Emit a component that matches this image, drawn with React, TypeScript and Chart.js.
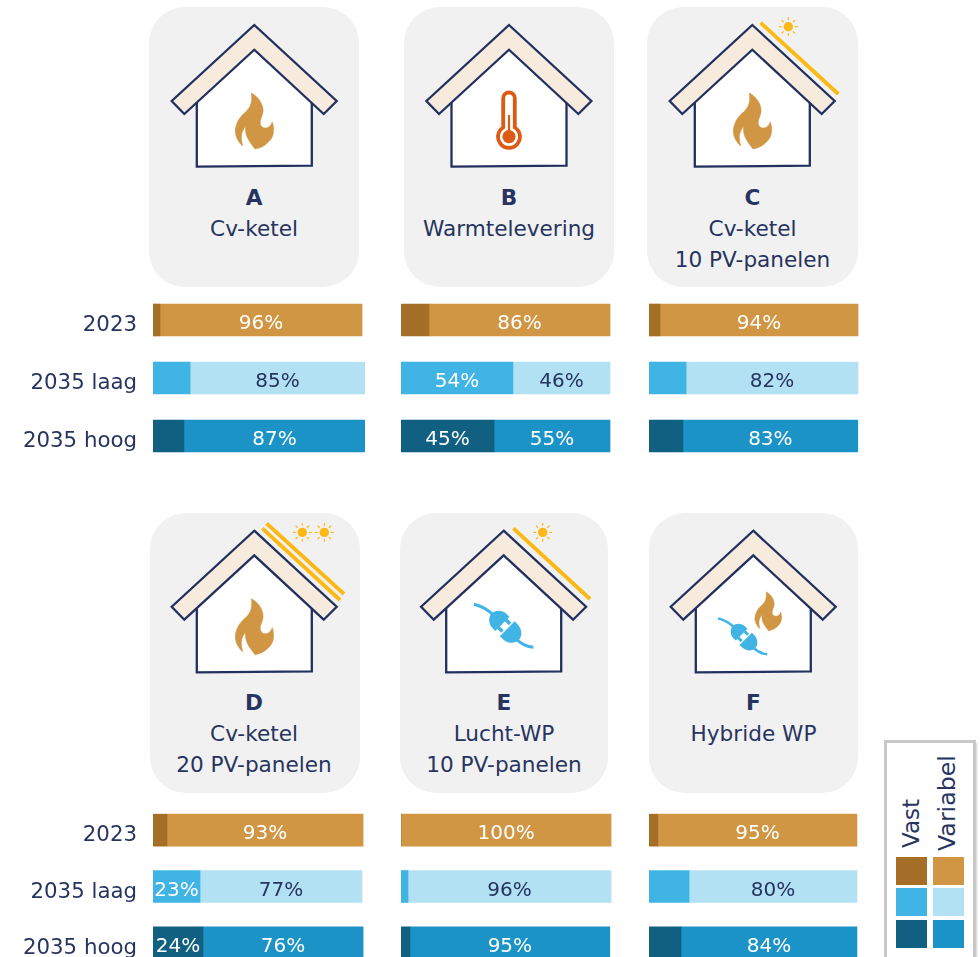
import React, { useEffect, useRef } from "react";
import { Chart, registerables } from "chart.js";

Chart.register(...registerables);

const FONT = '"DejaVu Sans", Verdana, sans-serif';
const NAVY = "#27345f";
const LINE = "#22305f";
const ORANGE = "#d19644";
const SUN = "#fdb913";

const categories = ["2023", "2035 laag", "2035 hoog"];

const vastColours = ["#a66f28", "#41b4e6", "#116082"];
const variabelColours = ["#d19644", "#b2e1f4", "#1b93c6"];
const variabelLabelColours = ["#ffffff", "#27345f", "#ffffff"];

// bar segments, on a 0-100 axis
const aVast = [3.3, 17.5, 14.6];
const aVariabel = [95.3, 82.5, 85.4];
const aVastLabels = ["", "", ""];
const aVariabelLabels = ["96%", "85%", "87%"];

const bVast = [13.2, 52.8, 43.9];
const bVariabel = [85.4, 45.8, 54.7];
const bVastLabels = ["", "54%", "45%"];
const bVariabelLabels = ["86%", "46%", "55%"];

const cVast = [5.2, 17.5, 16];
const cVariabel = [93.4, 81.1, 82.5];
const cVastLabels = ["", "", ""];
const cVariabelLabels = ["94%", "82%", "83%"];

const dVast = [6.6, 22.2, 23.6];
const dVariabel = [92.5, 76.4, 75.5];
const dVastLabels = ["", "23%", "24%"];
const dVariabelLabels = ["93%", "77%", "76%"];

const eVast = [0, 3.3, 4.2];
const eVariabel = [99.1, 95.8, 94.3];
const eVastLabels = ["", "", ""];
const eVariabelLabels = ["100%", "96%", "95%"];

const fVast = [4.2, 18.9, 15.1];
const fVariabel = [93.9, 79.2, 83];
const fVastLabels = ["", "", ""];
const fVariabelLabels = ["95%", "80%", "84%"];

const segmentLabels = {
  id: "segmentLabels",
  afterDatasetsDraw(chart: any) {
    const { ctx } = chart;
    chart.data.datasets.forEach((ds: any, i: number) => {
      chart.getDatasetMeta(i).data.forEach((el: any, j: number) => {
        const text = ds.rowLabels[j];
        if (!text) return;
        const c = el.getCenterPoint();
        ctx.save();
        ctx.font = `20px ${FONT}`;
        ctx.fillStyle = ds.labelColours[j];
        ctx.textAlign = "center";
        ctx.textBaseline = "middle";
        ctx.fillText(text, c.x, c.y + 4);
        ctx.restore();
      });
    });
    const y = chart.scales.y;
    if (y.options.display) {
      ctx.save();
      ctx.font = `21.3px ${FONT}`;
      ctx.fillStyle = NAVY;
      ctx.textAlign = "right";
      ctx.textBaseline = "middle";
      chart.data.labels.forEach((label: string, i: number) => {
        ctx.fillText(label, chart.chartArea.left - 16, y.getPixelForTick(i) + 5.5);
      });
      ctx.restore();
    }
  },
};

function Bars(props: {
  left: number; top: number; rowsHeight: number; axis: boolean;
  vast: number[]; variabel: number[]; vastLabels: string[]; variabelLabels: string[];
}) {
  const ref = useRef<HTMLCanvasElement>(null);
  const axisWidth = props.axis ? 153 : 0;
  const width = axisWidth + 212;
  useEffect(() => {
    const chart = new Chart(ref.current as HTMLCanvasElement, {
      type: "bar",
      plugins: [segmentLabels],
      data: {
        labels: categories,
        datasets: [
          {
            label: "Vast", data: props.vast, backgroundColor: vastColours, stack: "s",
            barThickness: 32, rowLabels: props.vastLabels,
            labelColours: ["#ffffff", "#ffffff", "#ffffff"],
          },
          {
            label: "Variabel", data: props.variabel, backgroundColor: variabelColours, stack: "s",
            barThickness: 32, rowLabels: props.variabelLabels,
            labelColours: variabelLabelColours,
          },
        ] as any,
      },
      options: {
        indexAxis: "y",
        animation: false,
        responsive: false,
        maintainAspectRatio: false,
        layout: { padding: 0 },
        plugins: { legend: { display: false }, tooltip: { enabled: false } },
        scales: {
          x: { display: false, stacked: true, min: 0, max: 100 },
          y: {
            display: props.axis,
            stacked: true,
            grid: { display: false, drawTicks: false },
            border: { display: false },
            ticks: { display: false },
            afterFit: (s: any) => {
              s.width = axisWidth;
              s.paddingTop = 0;
              s.paddingBottom = 0;
            },
          },
        },
      } as any,
    });
    return () => chart.destroy();
  }, []);
  return (
    <canvas
      ref={ref}
      width={width}
      height={props.rowsHeight}
      style={{ position: "absolute", left: props.left - axisWidth, top: props.top, width, height: props.rowsHeight }}
    />
  );
}

const FLAME =
  "M-3 68 C5 72 11 82 8 90 C6 95 5 99 7 101 C10 105 16 103 18 97 C20 103 20 110 16 115 C11 121 6 123 0.7 124 C-2 120 -6 116 -8 110 C-9 106 -9 103 -8.5 101 C-11 104 -13 108 -13 112 C-13 116 -12 119 -11.7 121 C-15 118 -18.5 113 -19 107 C-19 100 -16 94 -11 89 C-6 85 -1 80 -3 68 Z";

function Flame() {
  return <path d={FLAME} fill={ORANGE} stroke={ORANGE} strokeWidth={0.6} />;
}

function Thermometer() {
  const c = "#dc5a14";
  return (
    <g>
      <path d="M-5.8 102.5 V73.3 A5.8 5.8 0 0 1 5.8 73.3 V102.5 A11 11 0 1 1 -5.8 102.5 Z" fill="#fff" stroke={c} strokeWidth={3.8} />
      <circle cx={0} cy={111.7} r={6.6} fill={c} />
      <rect x={-1.1} y={90} width={2.2} height={18} fill={c} />
    </g>
  );
}

function Plug({ x, y, s }: { x: number; y: number; s: number }) {
  const c = "#41b4e6";
  return (
    <g transform={`translate(${x} ${y}) rotate(45) scale(${s})`}>
      <path d="M-1 -10.5 H3 C9 -10.5 15 -6 15 0 C15 6 9 10.5 3 10.5 H-1 Z" fill={c} />
      <path d="M13 1 C18 1 26 -1 30.5 -5.3" fill="none" stroke={c} strokeWidth={3} />
      <path d="M-8 -10 H-12 C-18 -10 -23 -5 -23 0 C-23 5 -18 10 -12 10 H-8 Z" fill={c} />
      <rect x={-8.5} y={-7.2} width={6} height={3.6} fill={c} />
      <rect x={-8.5} y={3.6} width={6} height={3.6} fill={c} />
      <path d="M-20 0 C-27 0 -35 2 -42 6.2" fill="none" stroke={c} strokeWidth={3} />
    </g>
  );
}

function Sun({ x, y }: { x: number; y: number }) {
  const rays = [0, 45, 90, 135, 180, 225, 270, 315];
  return (
    <g transform={`translate(${x} ${y})`}>
      <circle r={4.7} fill={SUN} />
      {rays.map((a) => (
        <line key={a} x1={6.6} y1={0} x2={9.4} y2={0} stroke={SUN} strokeWidth={1.2} transform={`rotate(${a})`} />
      ))}
    </g>
  );
}

function Panel({ x1, y1, x2, y2 }: any) {
  return <line x1={x1} y1={y1} x2={x2} y2={y2} stroke={SUN} strokeWidth={3.8} />;
}

function House({ x, y, children }: { x: number; y: number; children?: React.ReactNode }) {
  return (
    <g transform={`translate(${x} ${y})`}>
      <path d="M-57.5 70 L0 24 L57.5 70 V140.7 L-57.5 141.7 Z" fill="#fff" stroke={LINE} strokeWidth={2.3} />
      <path d="M0 0 L82.4 76 L69.4 89 L0 24.7 L-70 89 L-82.6 76 Z" fill="#f6ebdd" stroke={LINE} strokeWidth={2.3} strokeLinejoin="miter" />
      {children}
    </g>
  );
}

function Card({ x, y, w, h }: { x: number; y: number; w: number; h: number }) {
  return <rect x={x} y={y} width={w} height={h} rx={36} ry={36} fill="#f1f1f1" />;
}

function Caption({ x, y, lines }: { x: number; y: number; lines: string[] }) {
  return (
    <g fontFamily={FONT} fontSize={21.6} fill={NAVY} textAnchor="middle">
      {lines.map((t, i) => (
        <text key={t} x={x} y={y + i * 31} fontWeight={i === 0 ? 700 : 400}>{t}</text>
      ))}
    </g>
  );
}

export default function App() {
  return (
    <div style={{ position: "fixed", left: 0, top: 0, width: 980, height: 957, overflow: "hidden", background: "#fff" }}>
      <svg width={980} height={957} style={{ position: "absolute", left: 0, top: 0 }}>
        <Card x={149} y={7} w={210} h={280} />
        <Card x={404} y={7} w={210} h={280} />
        <Card x={647} y={7} w={211} h={280} />
        <Card x={150} y={513} w={210} h={280} />
        <Card x={400} y={513} w={208} h={280} />
        <Card x={649} y={513} w={209} h={280} />

        <House x={254.3} y={25}><Flame /></House>
        <House x={509} y={25}><Thermometer /></House>
        <House x={752.3} y={25}>
          <Flame />
          <Panel x1={8.3} y1={-2.3} x2={86} y2={69} />
          <Sun x={36} y={1.7} />
        </House>
        <House x={254.3} y={530.7}>
          <Flame />
          <Panel x1={12.3} y1={-7.3} x2={89.7} y2={63.3} />
          <Panel x1={8} y1={-2.3} x2={85.7} y2={69.3} />
          <Sun x={48} y={1.7} />
          <Sun x={70} y={1.7} />
        </House>
        <House x={503.7} y={530.7}>
          <Plug x={4.3} y={98.8} s={1} />
          <Panel x1={9.7} y1={-2.3} x2={86.3} y2={68.3} />
          <Sun x={39} y={1.7} />
        </House>
        <House x={753.3} y={530.7}>
          <Plug x={-7} y={108.7} s={0.83} />
          <g transform="translate(14.8 13.4) scale(0.7)"><Flame /></g>
        </House>

        <Caption x={254} y={205} lines={["A", "Cv-ketel"]} />
        <Caption x={509} y={205} lines={["B", "Warmtelevering"]} />
        <Caption x={752.5} y={205} lines={["C", "Cv-ketel", "10 PV-panelen"]} />
        <Caption x={254} y={710} lines={["D", "Cv-ketel", "20 PV-panelen"]} />
        <Caption x={504} y={710} lines={["E", "Lucht-WP", "10 PV-panelen"]} />
        <Caption x={753.5} y={710} lines={["F", "Hybride WP"]} />

        <defs>
          <filter id="legendBlur" x="-10%" y="-10%" width="120%" height="120%">
            <feGaussianBlur stdDeviation="1.2" />
          </filter>
        </defs>
        <rect x={887} y={743} width={89.5} height={230} fill="#bdbdbd" filter="url(#legendBlur)" />
        <rect x={885.5} y={741.5} width={89} height={230} fill="#fff" stroke="#c8c8c8" strokeWidth={3} />
        <g fontFamily={FONT} fill={NAVY}>
          <text transform="translate(919 848) rotate(-90)" fontSize={23}>Vast</text>
          <text transform="translate(954.5 851) rotate(-90)" fontSize={23.7}>Variabel</text>
        </g>
        {vastColours.map((c, i) => (
          <rect key={c} x={896} y={[857, 888, 920][i]} width={31} height={28} fill={c} />
        ))}
        {variabelColours.map((c, i) => (
          <rect key={c} x={933} y={[857, 888, 920][i]} width={31} height={28} fill={c} />
        ))}
      </svg>

      <Bars left={153} top={291} rowsHeight={174} axis vast={aVast} variabel={aVariabel} vastLabels={aVastLabels} variabelLabels={aVariabelLabels} />
      <Bars left={401} top={291} rowsHeight={174} axis={false} vast={bVast} variabel={bVariabel} vastLabels={bVastLabels} variabelLabels={bVariabelLabels} />
      <Bars left={649} top={291} rowsHeight={174} axis={false} vast={cVast} variabel={cVariabel} vastLabels={cVastLabels} variabelLabels={cVariabelLabels} />
      <Bars left={153} top={802} rowsHeight={169} axis vast={dVast} variabel={dVariabel} vastLabels={dVastLabels} variabelLabels={dVariabelLabels} />
      <Bars left={401} top={802} rowsHeight={169} axis={false} vast={eVast} variabel={eVariabel} vastLabels={eVastLabels} variabelLabels={eVariabelLabels} />
      <Bars left={649} top={802} rowsHeight={169} axis={false} vast={fVast} variabel={fVariabel} vastLabels={fVastLabels} variabelLabels={fVariabelLabels} />
    </div>
  );
}
